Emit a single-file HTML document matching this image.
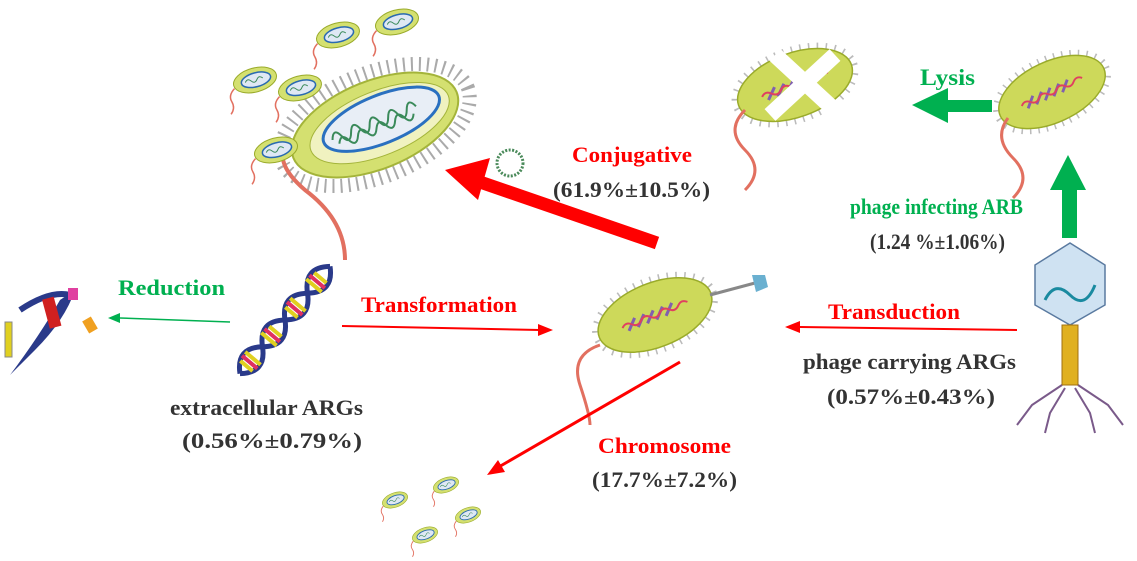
<!DOCTYPE html>
<html><head><meta charset="utf-8"><style>
html,body{margin:0;padding:0;background:#fff;}
svg{display:block;}
text{font-family:"Liberation Serif",serif;font-weight:bold;}
</style></head><body>
<svg width="1137" height="561" viewBox="0 0 1137 561" xmlns="http://www.w3.org/2000/svg">
<defs>
<g id="sb">
<ellipse cx="0" cy="0" rx="22" ry="12" fill="#d4e070" stroke="#9aab2a" stroke-width="1"/>
<ellipse cx="1" cy="0" rx="15" ry="7" fill="#dfe8f4" stroke="#2a6ab0" stroke-width="1.5"/>
<path d="M-10 0 q3 -4 6 0 t6 0 t6 0" stroke="#3a8a5a" fill="none"/>
<path d="M-22 3 q-8 5 -6 12 t-4 12" stroke="#e27060" stroke-width="1.5" fill="none"/>
</g>
<g id="bac">
<ellipse cx="0" cy="0" rx="60" ry="32" fill="none" stroke="#bbb" stroke-width="12" stroke-dasharray="1.5 7"/>
<ellipse cx="0" cy="0" rx="60" ry="32" fill="#cdd95a" stroke="#9aab2a" stroke-width="1.5"/>
<path d="M-30 5 l10 -10 M-20 5 l10 -10 M-10 5 l10 -10 M0 5 l10 -10 M10 5 l10 -10" stroke="#8060b0" stroke-width="3"/>
<path d="M-35 0 q5 -5 10 0 t10 0 t10 0 t10 0 t10 0 t10 0 t10 0" stroke="#e04060" stroke-width="2" fill="none"/>
</g>
</defs>

<!-- top-left big bacterium -->
<g transform="translate(375,125) rotate(-22)">
<ellipse cx="0" cy="0" rx="100" ry="52" fill="none" stroke="#aaa" stroke-width="14" stroke-dasharray="2 6"/>
<ellipse cx="0" cy="0" rx="88" ry="44" fill="#d4e070" stroke="#a4b43a" stroke-width="2"/>
<ellipse cx="5" cy="0" rx="74" ry="32" fill="#f0f2c0" stroke="#a4b43a"/>
<ellipse cx="8" cy="-3" rx="62" ry="24" fill="#e8eef6" stroke="#2a70c0" stroke-width="3"/>
<path d="M-45 -2 q5 -12 10 0 t10 0 t10 0 t10 0 t10 0 t10 0 t10 0 t10 0 t10 0" stroke="#3a8a5a" stroke-width="2" fill="none"/>
<path d="M-40 4 q5 -10 10 0 t10 0 t10 0 t10 0 t10 0 t10 0 t10 0 t10 0" stroke="#3a8a5a" stroke-width="2" fill="none"/>
</g>
<path d="M290 140 q-20 20 15 50 q40 30 40 70" stroke="#e27060" stroke-width="4" fill="none"/>
<use href="#sb" transform="translate(255,80) rotate(-15)"/>
<use href="#sb" transform="translate(300,88) rotate(-15)"/>
<use href="#sb" transform="translate(338,35) rotate(-15)"/>
<use href="#sb" transform="translate(397,22) rotate(-15)"/>
<use href="#sb" transform="translate(276,150) rotate(-15)"/>
<circle cx="510" cy="163" r="13" fill="none" stroke="#4a8a5a" stroke-width="3" stroke-dasharray="2 1.5"/>

<!-- big red arrow -->
<line x1="657" y1="243" x2="480" y2="182" stroke="#f00" stroke-width="13"/>
<polygon points="445,170 490,158 478,200" fill="#f00"/>
<text x="572" y="162" font-size="22" fill="#f00" textLength="120" lengthAdjust="spacingAndGlyphs">Conjugative</text>
<text x="553" y="197" font-size="22" fill="#333" textLength="157" lengthAdjust="spacingAndGlyphs">(61.9%±10.5%)</text>

<!-- top right lysis -->
<g transform="translate(795,85) rotate(-20)"><use href="#bac"/></g>
<line x1="775" y1="55" x2="840" y2="115" stroke="#fff" stroke-width="16"/>
<line x1="770" y1="115" x2="835" y2="55" stroke="#fff" stroke-width="16"/>
<path d="M745 110 q-20 20 0 40 t0 40" stroke="#e27060" stroke-width="3" fill="none"/>
<g transform="translate(1052,92) rotate(-25) scale(0.95)"><use href="#bac"/></g>
<path d="M1008 118 q-15 20 5 40 t0 40" stroke="#e27060" stroke-width="3" fill="none"/>
<polygon points="912,105 948,88 948,100 992,100 992,112 948,112 948,123" fill="#00b050"/>
<text x="920" y="85" font-size="23" fill="#00b050" textLength="55" lengthAdjust="spacingAndGlyphs">Lysis</text>
<polygon points="1062,238 1077,238 1077,190 1086,190 1068,155 1050,190 1062,190" fill="#00b050"/>
<text x="850" y="214" font-size="22" fill="#00b050" textLength="173" lengthAdjust="spacingAndGlyphs">phage infecting ARB</text>
<text x="870" y="249" font-size="22" fill="#333" textLength="135" lengthAdjust="spacingAndGlyphs">(1.24 %±1.06%)</text>

<!-- phage -->
<polygon points="1070,243 1105,265 1105,305 1070,325 1035,305 1035,265" fill="#cfe2f2" stroke="#5a7aa0" stroke-width="1.5"/>
<path d="M1045 300 q10 -20 25 -5 t25 -10" stroke="#1a8aa0" stroke-width="3" fill="none"/>
<rect x="1062" y="325" width="16" height="60" fill="#e0b020" stroke="#a07010"/>
<path d="M1062 385 l-30 20 l-15 20 M1078 385 l30 20 l15 20 M1065 388 l-15 25 l-5 20 M1075 388 l15 25 l5 20" stroke="#7a5a8a" stroke-width="2" fill="none"/>
<line x1="1017" y1="330" x2="800" y2="327" stroke="#f00" stroke-width="2"/>
<polygon points="785,327 800,321 800,333" fill="#f00"/>
<text x="828" y="319" font-size="22" fill="#f00" textLength="132" lengthAdjust="spacingAndGlyphs">Transduction</text>
<text x="803" y="369" font-size="22" fill="#333" textLength="213" lengthAdjust="spacingAndGlyphs">phage carrying ARGs</text>
<text x="827" y="404" font-size="22" fill="#333" textLength="168" lengthAdjust="spacingAndGlyphs">(0.57%±0.43%)</text>

<!-- center bacterium -->
<g transform="translate(655,315) rotate(-22)"><use href="#bac"/></g>
<path d="M600 345 q-30 10 -20 40 t10 40" stroke="#e27060" stroke-width="3" fill="none"/>
<line x1="710" y1="295" x2="755" y2="283" stroke="#888" stroke-width="3"/>
<polygon points="752,275 765,275 768,287 756,292" fill="#6ab0d0"/>

<!-- transformation -->
<line x1="342" y1="326" x2="540" y2="330" stroke="#f00" stroke-width="2"/>
<polygon points="553,330 538,324 538,336" fill="#f00"/>
<text x="361" y="312" font-size="22" fill="#f00" textLength="156" lengthAdjust="spacingAndGlyphs">Transformation</text>

<!-- DNA -->
<g transform="translate(285,320) rotate(-50)">
<path d="M-70 0 q17.5 -20 35 0 t35 0 t35 0 t35 0" stroke="#2a3a8a" stroke-width="5" fill="none"/>
<path d="M-70 0 q17.5 20 35 0 t35 0 t35 0 t35 0" stroke="#2a3a8a" stroke-width="5" fill="none"/>
<path d="M-60 -8 v16 M-50 -10 v20 M-25 -10 v20 M-15 -8 v16 M10 -8 v16 M20 -10 v20 M45 -10 v20 M55 -8 v16" stroke="#e0d020" stroke-width="4"/>
<path d="M-55 -10 v20 M-20 -10 v20 M15 -10 v20 M50 -10 v20" stroke="#e03060" stroke-width="4"/>
</g>
<text x="170" y="415" font-size="22" fill="#333" textLength="193" lengthAdjust="spacingAndGlyphs">extracellular ARGs</text>
<text x="182" y="448" font-size="22" fill="#333" textLength="180" lengthAdjust="spacingAndGlyphs">(0.56%±0.79%)</text>

<!-- reduction -->
<line x1="230" y1="322" x2="120" y2="318" stroke="#00b050" stroke-width="1.5"/>
<polygon points="108,318 120,313 120,323" fill="#00b050"/>
<text x="118" y="295" font-size="22" fill="#00b050" textLength="107" lengthAdjust="spacingAndGlyphs">Reduction</text>
<path d="M10 375 q30 -40 50 -75 l15 -10 q-10 30 -40 60 q-15 15 -25 25z" fill="#2a3a8a"/>
<path d="M20 310 q30 -20 50 -15" stroke="#2a3a8a" stroke-width="6" fill="none"/>
<rect x="45" y="298" width="12" height="30" fill="#d02020" transform="rotate(-15 50 310)"/>
<rect x="68" y="288" width="10" height="12" fill="#e040a0"/>
<rect x="85" y="318" width="10" height="14" fill="#f0a020" transform="rotate(-30 90 325)"/>
<rect x="5" y="322" width="7" height="35" fill="#e0d020" stroke="#888"/>

<!-- chromosome -->
<line x1="680" y1="362" x2="497" y2="468" stroke="#f00" stroke-width="3"/>
<polygon points="487,475 498,460 505,472" fill="#f00"/>
<text x="598" y="453" font-size="22" fill="#f00" textLength="133" lengthAdjust="spacingAndGlyphs">Chromosome</text>
<text x="592" y="487" font-size="22" fill="#333" textLength="145" lengthAdjust="spacingAndGlyphs">(17.7%±7.2%)</text>
<use href="#sb" transform="translate(395,500) rotate(-20) scale(0.6)"/>
<use href="#sb" transform="translate(446,485) rotate(-20) scale(0.6)"/>
<use href="#sb" transform="translate(425,535) rotate(-20) scale(0.6)"/>
<use href="#sb" transform="translate(468,515) rotate(-20) scale(0.6)"/>
</svg>
</body></html>
